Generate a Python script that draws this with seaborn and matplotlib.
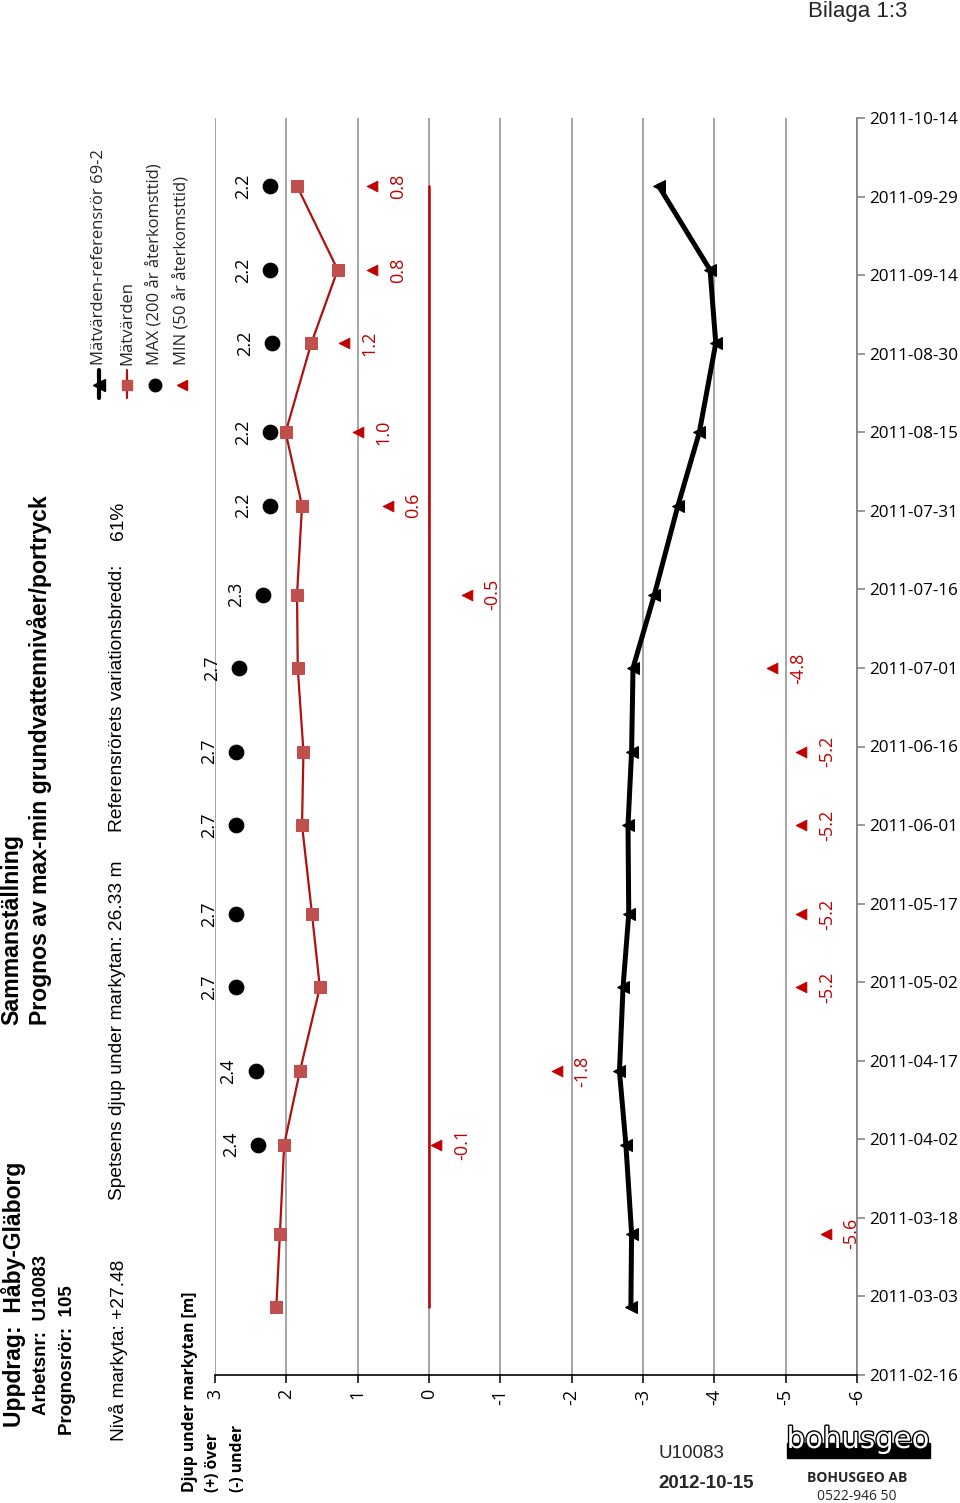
import matplotlib
matplotlib.use("Agg")
import matplotlib.pyplot as plt
import matplotlib.dates as mdates
import matplotlib.patheffects as pe
from matplotlib.lines import Line2D
from matplotlib.patches import Rectangle
import seaborn as sns
import pandas as pd

# ---------------- data ----------------
dates = ["2011-03-01", "2011-03-15", "2011-04-01", "2011-04-15", "2011-05-01",
         "2011-05-15", "2011-06-01", "2011-06-15", "2011-07-01", "2011-07-15",
         "2011-08-01", "2011-08-15", "2011-09-01", "2011-09-15", "2011-10-01"]
ref_values = [-2.83, -2.84, -2.76, -2.67, -2.72, -2.80, -2.79, -2.84, -2.86,
              -3.16, -3.49, -3.79, -4.02, -3.94, -3.22]
mat_values = [2.14, 2.09, 2.03, 1.81, 1.53, 1.64, 1.78, 1.76, 1.84, 1.85,
              1.78, 2.01, 1.65, 1.28, 1.85]
max_dates = dates[2:]
max_values = [2.40, 2.43, 2.70, 2.70, 2.70, 2.70, 2.66, 2.33, 2.23, 2.23,
              2.20, 2.23, 2.23]
min_dates = dates[1:]
min_values = [-5.56, -0.10, -1.79, -5.22, -5.22, -5.22, -5.22, -4.81, -0.53,
              0.58, 1.00, 1.19, 0.80, 0.80]
zero_dates = [dates[0], dates[-1]]
zero_values = [0, 0]
value_ticks = [3, 2, 1, 0, -1, -2, -3, -4, -5, -6]
date_start, date_end = "2011-02-16", "2011-10-14"
legend_labels = ["Mätvärden-referensrör 69-2", "Mätvärden",
                 "MAX (200 år återkomsttid)", "MIN (50 år återkomsttid)"]

# ---------------- style ----------------
sns.set_theme(style="white")
plt.rcParams["font.family"] = ["Open Sans", "DejaVu Sans"]
ARIAL = ["Liberation Sans", "DejaVu Sans"]
OPEN = ["Open Sans", "DejaVu Sans"]
RED = "#C00000"
RED_LINE = "#B01010"
RED_SQ = "#C0504D"
GRID = "#8C8C8C"

W, H = 960, 1503
fig = plt.figure(figsize=(W / 100, H / 100), dpi=100)
ax = fig.add_axes([215 / W, 1 - 1375 / H, (857 - 215) / W, (1375 - 118) / H])


def fx(x):
    return x / W


def fy(y):
    return 1 - y / H


df_ref = pd.DataFrame({"datum": pd.to_datetime(dates), "niva": ref_values})
df_mat = pd.DataFrame({"datum": pd.to_datetime(dates), "niva": mat_values})
df_max = pd.DataFrame({"datum": pd.to_datetime(max_dates), "niva": max_values})
df_min = pd.DataFrame({"datum": pd.to_datetime(min_dates), "niva": min_values})
df_zero = pd.DataFrame({"datum": pd.to_datetime(zero_dates), "niva": zero_values})

sns.lineplot(data=df_zero, x="niva", y="datum", orient="y", estimator=None,
             color=RED, lw=1.8, legend=False, ax=ax, zorder=3)
sns.lineplot(data=df_mat, x="niva", y="datum", orient="y", estimator=None,
             color=RED_LINE, lw=1.6, marker="s", markersize=8,
             markerfacecolor=RED_SQ, markeredgecolor=RED_SQ, legend=False,
             ax=ax, zorder=4)
sns.lineplot(data=df_ref, x="niva", y="datum", orient="y", estimator=None,
             color="black", lw=3.6, marker="<", markersize=9,
             markerfacecolor="black", markeredgecolor="black", legend=False,
             ax=ax, zorder=4)
sns.scatterplot(data=df_max, x="niva", y="datum", marker="o", s=110,
                color="black", edgecolor="black", legend=False, ax=ax, zorder=5)
sns.scatterplot(data=df_min, x="niva", y="datum", marker="<", s=60,
                color=RED, edgecolor=RED, legend=False, ax=ax, zorder=5)

for d, v in zip(df_max["datum"], df_max["niva"]):
    ax.annotate(f"{v:.1f}", (v, d), xytext=(-19.5, 0), textcoords="offset points",
                rotation=90, ha="center", va="center", fontsize=13, color="black")
for d, v in zip(df_min["datum"], df_min["niva"]):
    ax.annotate(f"{v:.1f}", (v, d), xytext=(18.5, 0), textcoords="offset points",
                rotation=90, ha="center", va="center", fontsize=13, color=RED)

# axes
ax.set_xlim(3, -6)
ax.set_ylim(pd.Timestamp(date_start), pd.Timestamp(date_end))
ax.set_xticks(value_ticks)
ax.set_xticklabels([str(v) for v in value_ticks], rotation=90, va="top")
ax.set_yticks(pd.date_range(date_start, date_end, freq="15D"))
ax.yaxis.set_major_formatter(mdates.DateFormatter("%Y-%m-%d"))
ax.yaxis.tick_right()
ax.set_xlabel("")
ax.set_ylabel("")
ax.set_axisbelow(True)
ax.grid(axis="x", color=GRID, lw=1.1)
ax.grid(axis="y", visible=False)
for s in ["top", "left"]:
    ax.spines[s].set_visible(False)
ax.spines["right"].set_color("#7F7F7F")
ax.spines["right"].set_linewidth(1.2)
ax.spines["bottom"].set_color("black")
ax.spines["bottom"].set_linewidth(1.2)
ax.tick_params(axis="y", which="major", right=True, left=False, labelright=True,
               labelleft=False, direction="out", length=6, width=1.1,
               color="#7F7F7F", pad=3, labelsize=12.3, labelcolor="black")
ax.tick_params(axis="x", which="major", bottom=True, direction="out", length=6,
               width=1.1, color="black", pad=4, labelsize=13, labelcolor="black")

# ---------------- legend (rotated, drawn manually) ----------------
leg_x = [99, 127, 155, 182]
handles = [
    dict(color="black", lw=3.0, marker="<", ms=8, mfc="black", mec="black", line=True),
    dict(color=RED_LINE, lw=1.6, marker="s", ms=7, mfc=RED_SQ, mec=RED_SQ, line=True),
    dict(color="black", lw=0, marker="o", ms=9, mfc="black", mec="black", line=False),
    dict(color=RED, lw=0, marker="<", ms=7, mfc=RED, mec=RED, line=False),
]
for x, lab, h in zip(leg_x, legend_labels, handles):
    if h["line"]:
        fig.add_artist(Line2D([fx(x), fx(x)], [fy(398), fy(370)], color=h["color"],
                              lw=h["lw"], transform=fig.transFigure))
    fig.add_artist(Line2D([fx(x)], [fy(385)], lw=0, marker=h["marker"],
                          markersize=h["ms"], markerfacecolor=h["mfc"],
                          markeredgecolor=h["mec"], transform=fig.transFigure))
    fig.text(fx(x), fy(365), lab, rotation=90, rotation_mode="anchor",
             ha="left", va="center", fontsize=12)

# ---------------- header texts (rotated) ----------------


def rtext(x, y, s, size, weight="normal", family=ARIAL, color="black"):
    fig.text(fx(x), fy(y), s, rotation=90, rotation_mode="anchor", ha="left",
             va="center", fontsize=size, fontweight=weight, family=family,
             color=color)


rtext(13, 1427, "Uppdrag:  Håby-Gläborg", 16.5, "bold")
rtext(42, 1415, "Arbetsnr:  U10083", 13.5, "bold")
rtext(68, 1435, "Prognosrör:  105", 13.5, "bold")
rtext(12, 1025, "Sammanställning", 16.7, "bold")
rtext(40, 1025, "Prognos av max-min grundvattennivåer/portryck", 16.6, "bold")
rtext(118, 1441, "Nivå markyta: +27.48", 13.8)
rtext(118, 1200, "Spetsens djup under markytan: 26.33 m", 13.8)
rtext(118, 832, "Referensrörets variationsbredd:", 13.8)
rtext(118, 540, "61%", 13.8)
rtext(190, 1492, "Djup under markytan [m]", 11.3, "bold", OPEN)
rtext(213, 1492, "(+) över", 11.3, "bold", OPEN)
rtext(238, 1492, "(-) under", 11.3, "bold", OPEN)

# ---------------- other texts ----------------
fig.text(fx(808), fy(12), "Bilaga 1:3", ha="left", va="center", fontsize=16,
         family=ARIAL)
fig.text(fx(658), fy(1453), "U10083", ha="left", va="center", fontsize=13.5,
         family=ARIAL)
fig.text(fx(658), fy(1483), "2012-10-15", ha="left", va="center", fontsize=13.5,
         fontweight="bold", family=ARIAL)

# logo
fig.add_artist(Rectangle((fx(787), fy(1458)), (930 - 787) / W, 15 / H,
                         transform=fig.transFigure, color="black", zorder=1))
fig.text(fx(858), fy(1440), "bohusgeo", ha="center", va="center", fontsize=21,
         color="white", family=["DejaVu Sans"], zorder=2,
         path_effects=[pe.withStroke(linewidth=2.0, foreground="black")])
fig.text(fx(857), fy(1478), "BOHUSGEO AB", ha="center", va="center", fontsize=10,
         fontweight="bold")
fig.text(fx(857), fy(1497), "0522-946 50", ha="center", va="center", fontsize=10)

fig.savefig("out.png", dpi=100)
